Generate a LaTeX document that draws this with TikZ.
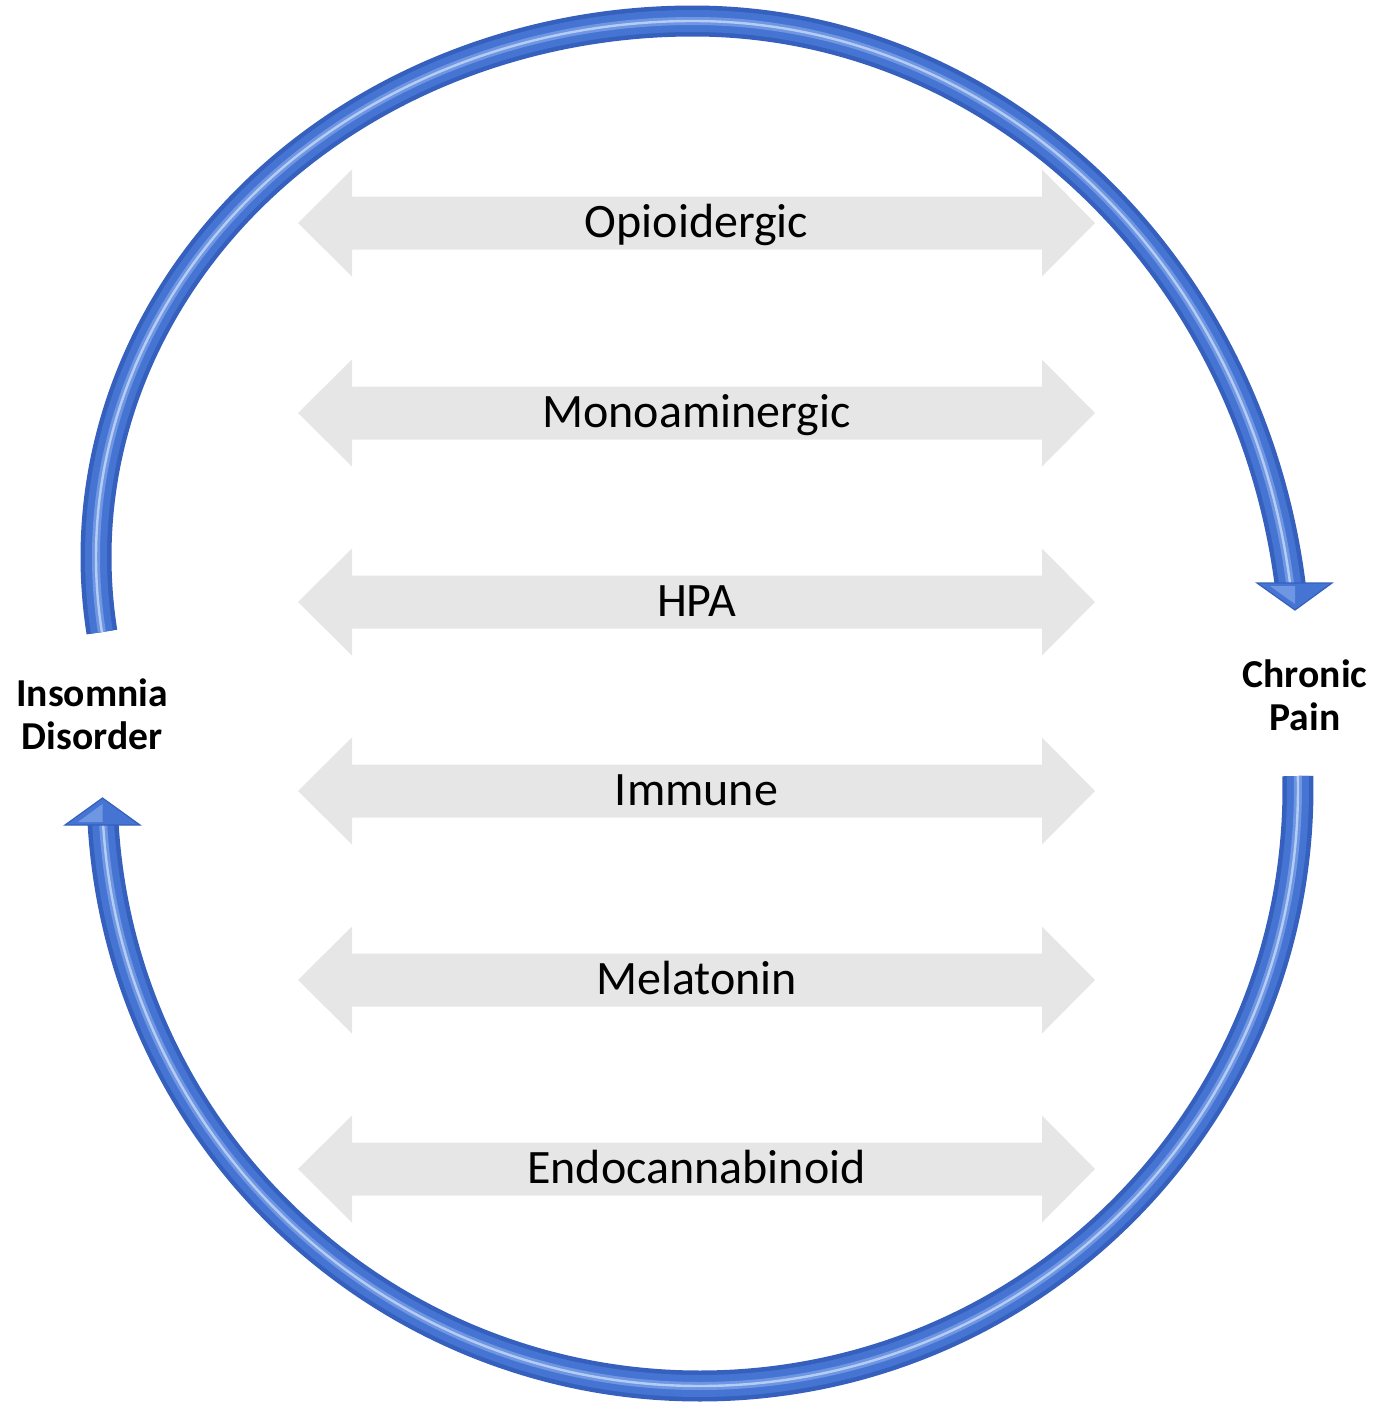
\documentclass[tikz,border=0pt]{standalone}
\usepackage{fontspec}
\setmainfont{Carlito}
\usetikzlibrary{calc}
\definecolor{grayA}{HTML}{E6E6E6}
\definecolor{blueD}{HTML}{3560BD}
\definecolor{blueM}{HTML}{4674D2}
\definecolor{blueL}{HTML}{6F96E2}
\definecolor{blueH}{HTML}{B5CCF5}
% #1 = path (in image pixel coordinates, y downwards)
\newcommand\tube[1]{%
  \draw[line width=15.5pt, draw=blueD] #1;
  \draw[line width=11pt, draw=blueM] #1;
  \draw[line width=4pt, draw=blueL] #1;
  \draw[line width=1.2pt, draw=blueH] #1;
}
\begin{document}
\begin{tikzpicture}[x=0.5pt,y=-0.5pt,
  glabel/.style={font=\fontsize{24}{28}\selectfont, anchor=base, inner sep=0pt, text=black},
  blabel/.style={font=\fontsize{19.8}{21.5}\selectfont\bfseries, align=center, inner sep=0pt, text=black},
  headshape/.style={fill=blueM, draw=blueD, line width=0.6pt, line join=miter}]
\useasboundingbox (0,0) rectangle (1375,1404);

% gray double arrows with labels
\foreach \y/\t/\n in {223/Opioidergic/opi, 413/Monoaminergic/mono, 602/HPA/hpa, 791/Immune/imm, 980/Melatonin/mel, 1169/Endocannabinoid/endo}{
  \fill[grayA] (298,\y) -- (352,\y-53.5) -- (352,\y-26.5) -- (1042,\y-26.5) -- (1042,\y-53.5)
     -- (1095,\y) -- (1042,\y+53.5) -- (1042,\y+26.5) -- (352,\y+26.5) -- (352,\y+53.5) -- cycle;
  \node[glabel] (\n) at (696.5,\y+14) {\t};
}

% end labels
\node[blabel] (insomnia) at (92,714) {Insomnia\\Disorder};
\node[blabel] (pain) at (1305,695) {Chronic\\Pain};

% arc end points
\coordinate (insTop) at ($(693,557)+(171.95:597 and 536)$);
\coordinate (painBot) at ($(700,788)+(-1.15:598 and 598)$);

% top arc: insomnia -> chronic pain
\tube{(insTop) arc[start angle=171.95, end angle=270, x radius=597, y radius=536]
        arc[start angle=270, end angle=352.97, x radius=603, y radius=654]}
\coordinate (painHead) at (1295,610);
\fill[headshape] (1257,583) -- (1332,583) -- (painHead) -- cycle;
\fill[blueL] (1270,586) -- (1295,586) -- (1295,604) -- cycle;

% bottom arc: chronic pain -> insomnia
\tube{(painBot) arc[start angle=-1.15, end angle=177.4, x radius=598, y radius=598]}
\coordinate (insHead) at (102.5,798);
\fill[headshape] (65,825) -- (140,825) -- (insHead) -- cycle;
\fill[blueL] (78,822) -- (102.5,822) -- (102.5,804) -- cycle;
\end{tikzpicture}
\end{document}
